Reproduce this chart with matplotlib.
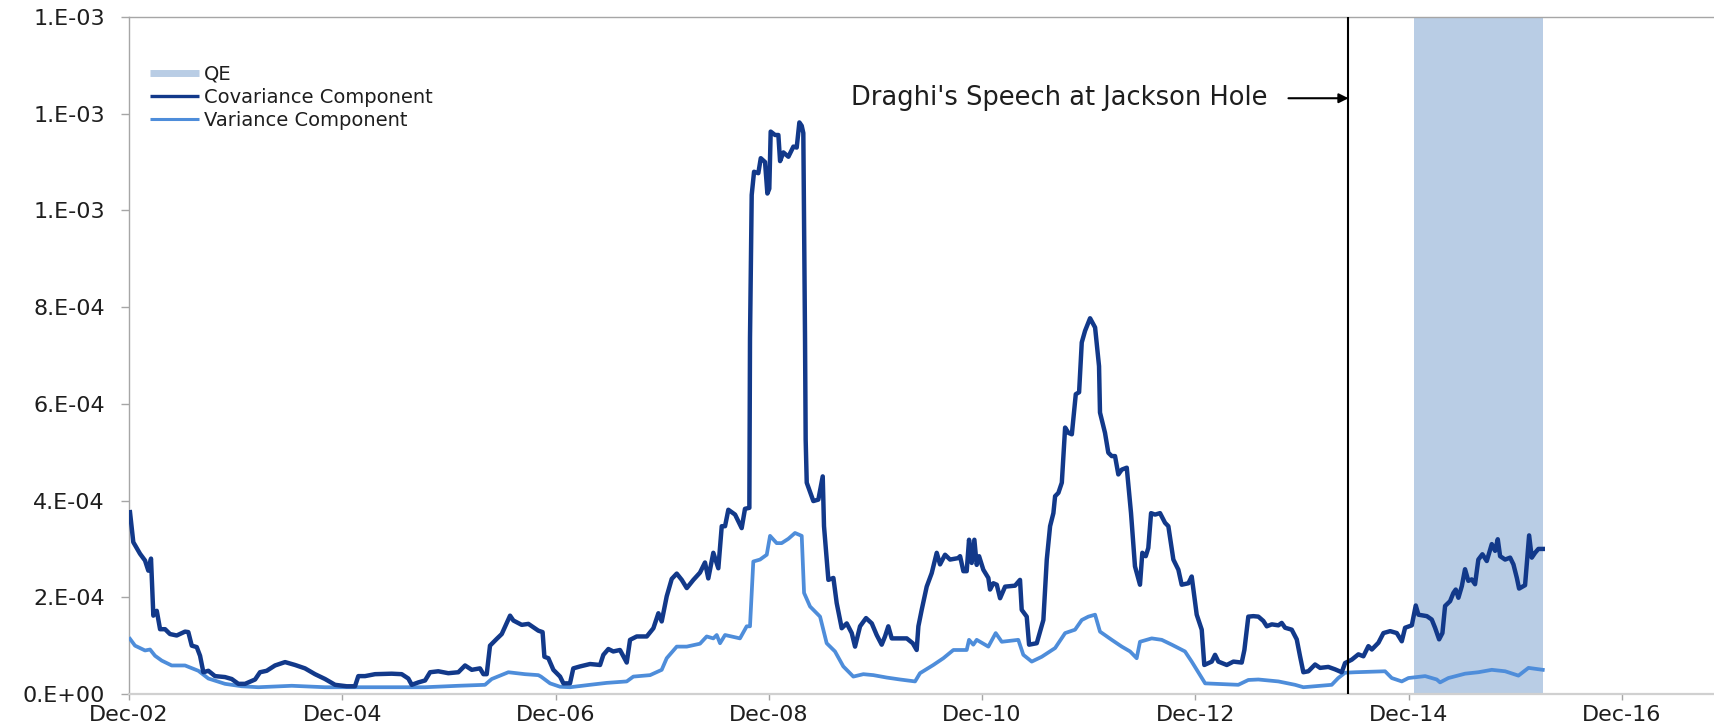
import matplotlib
matplotlib.use("Agg")
import numpy as np
import matplotlib.pyplot as plt
from matplotlib.lines import Line2D
from matplotlib.ticker import FuncFormatter, MultipleLocator

# ---------------- data (decimal years, values in units of 1e-4) ----------------
cov_years = [
    2002.926, 2002.957, 2003.020, 2003.067, 2003.098, 2003.123, 2003.145, 2003.177, 2003.208, 2003.255,
    2003.301, 2003.364, 2003.442, 2003.473, 2003.505, 2003.552, 2003.583, 2003.614, 2003.661, 2003.723,
    2003.817, 2003.880, 2003.942, 2004.005, 2004.099, 2004.145, 2004.208, 2004.286, 2004.380, 2004.474,
    2004.567, 2004.661, 2004.755, 2004.849, 2004.958, 2005.036, 2005.067, 2005.130, 2005.224, 2005.380,
    2005.474, 2005.536, 2005.568, 2005.630, 2005.693, 2005.740, 2005.817, 2005.911, 2006.005, 2006.068,
    2006.131, 2006.208, 2006.240, 2006.271, 2006.302, 2006.365, 2006.412, 2006.490, 2006.521, 2006.599,
    2006.662, 2006.755, 2006.795, 2006.812, 2006.849, 2006.896, 2006.959, 2006.990, 2007.052, 2007.083,
    2007.146, 2007.240, 2007.334, 2007.365, 2007.412, 2007.458, 2007.521, 2007.584, 2007.615, 2007.678,
    2007.772, 2007.834, 2007.881, 2007.912, 2007.959, 2008.006, 2008.053, 2008.100, 2008.147, 2008.209,
    2008.271, 2008.318, 2008.349, 2008.396, 2008.443, 2008.475, 2008.506, 2008.537, 2008.600, 2008.662,
    2008.693, 2008.734, 2008.740, 2008.756, 2008.778, 2008.818, 2008.841, 2008.881, 2008.903, 2008.921,
    2008.934, 2008.975, 2009.006, 2009.022, 2009.053, 2009.100, 2009.147, 2009.178, 2009.203, 2009.225,
    2009.240, 2009.256, 2009.262, 2009.272, 2009.334, 2009.381, 2009.422, 2009.434, 2009.475, 2009.522,
    2009.553, 2009.600, 2009.647, 2009.694, 2009.725, 2009.772, 2009.828, 2009.882, 2009.928, 2009.975,
    2010.006, 2010.037, 2010.069, 2010.147, 2010.210, 2010.266, 2010.303, 2010.319, 2010.350, 2010.397,
    2010.444, 2010.491, 2010.522, 2010.569, 2010.616, 2010.691, 2010.710, 2010.741, 2010.772, 2010.794,
    2010.819, 2010.844, 2010.866, 2010.888, 2010.928, 2010.975, 2010.991, 2011.022, 2011.054, 2011.085,
    2011.132, 2011.225, 2011.272, 2011.288, 2011.335, 2011.357, 2011.429, 2011.460, 2011.491, 2011.523,
    2011.554, 2011.585, 2011.601, 2011.632, 2011.664, 2011.695, 2011.726, 2011.758, 2011.795, 2011.826,
    2011.851, 2011.882, 2011.929, 2011.976, 2012.013, 2012.022, 2012.069, 2012.100, 2012.132, 2012.163,
    2012.194, 2012.226, 2012.273, 2012.313, 2012.350, 2012.397, 2012.419, 2012.451, 2012.475, 2012.501,
    2012.538, 2012.585, 2012.632, 2012.663, 2012.710, 2012.757, 2012.788, 2012.851, 2012.882, 2012.929,
    2012.976, 2013.000, 2013.070, 2013.101, 2013.132, 2013.211, 2013.273, 2013.351, 2013.376, 2013.413,
    2013.460, 2013.507, 2013.554, 2013.586, 2013.633, 2013.695, 2013.726, 2013.758, 2013.820, 2013.867,
    2013.898, 2013.929, 2013.976, 2014.039, 2014.086, 2014.163, 2014.226, 2014.289, 2014.320, 2014.383,
    2014.445, 2014.492, 2014.539, 2014.571, 2014.633, 2014.680, 2014.743, 2014.805, 2014.852, 2014.883,
    2014.946, 2014.983, 2015.008, 2015.087, 2015.133, 2015.164, 2015.202, 2015.233, 2015.258, 2015.305,
    2015.336, 2015.358, 2015.383, 2015.415, 2015.445, 2015.476, 2015.508, 2015.539, 2015.570, 2015.608,
    2015.649, 2015.696, 2015.727, 2015.752, 2015.774, 2015.821, 2015.868, 2015.899, 2015.931, 2015.952,
    2016.008, 2016.046, 2016.071, 2016.102, 2016.133, 2016.174,
]
cov_values_e4 = [
    3.76, 3.14, 2.90, 2.76, 2.55, 2.80, 1.62, 1.72, 1.34, 1.34,
    1.24, 1.21, 1.29, 1.28, 1.00, 0.97, 0.79, 0.45, 0.48, 0.37,
    0.35, 0.31, 0.21, 0.21, 0.30, 0.45, 0.48, 0.59, 0.66, 0.60,
    0.53, 0.41, 0.31, 0.19, 0.16, 0.16, 0.37, 0.37, 0.41, 0.42,
    0.41, 0.32, 0.19, 0.24, 0.28, 0.45, 0.47, 0.43, 0.45, 0.59,
    0.50, 0.53, 0.41, 0.41, 1.00, 1.14, 1.24, 1.62, 1.52, 1.43,
    1.45, 1.31, 1.28, 0.77, 0.74, 0.50, 0.36, 0.22, 0.22, 0.53,
    0.57, 0.62, 0.60, 0.81, 0.93, 0.88, 0.91, 0.65, 1.12, 1.19,
    1.19, 1.36, 1.67, 1.50, 2.02, 2.38, 2.49, 2.36, 2.19, 2.36,
    2.51, 2.72, 2.39, 2.92, 2.60, 3.47, 3.47, 3.81, 3.71, 3.43,
    3.83, 3.85, 7.35, 10.32, 10.80, 10.77, 11.08, 11.00, 10.35, 10.45,
    11.63, 11.56, 11.56, 11.02, 11.20, 11.11, 11.32, 11.30, 11.82, 11.75,
    11.60, 7.35, 5.26, 4.37, 3.99, 4.02, 4.50, 3.47, 2.36, 2.40,
    1.88, 1.36, 1.46, 1.26, 0.98, 1.40, 1.57, 1.46, 1.22, 1.02,
    1.19, 1.40, 1.15, 1.15, 1.15, 1.05, 0.91, 1.40, 1.74, 2.22,
    2.50, 2.92, 2.68, 2.88, 2.78, 2.81, 2.85, 2.54, 2.54, 3.19,
    2.71, 3.19, 2.67, 2.85, 2.57, 2.40, 2.16, 2.29, 2.26, 1.98,
    2.22, 2.24, 2.36, 1.74, 1.60, 1.02, 1.05, 1.29, 1.53, 2.78,
    3.47, 3.74, 4.09, 4.16, 4.37, 5.51, 5.40, 5.37, 6.20, 6.24,
    7.27, 7.51, 7.77, 7.58, 6.78, 5.82, 5.40, 4.99, 4.92, 4.92,
    4.54, 4.64, 4.68, 3.74, 2.64, 2.26, 2.92, 2.85, 3.02, 3.74,
    3.71, 3.74, 3.54, 3.47, 2.78, 2.57, 2.26, 2.29, 2.43, 1.64,
    1.33, 0.60, 0.67, 0.81, 0.67, 0.60, 0.67, 0.65, 0.91, 1.60,
    1.61, 1.60, 1.51, 1.40, 1.44, 1.42, 1.47, 1.37, 1.33, 1.13,
    0.78, 0.45, 0.47, 0.61, 0.54, 0.56, 0.51, 0.45, 0.64, 0.71,
    0.82, 0.78, 0.99, 0.92, 1.06, 1.26, 1.30, 1.26, 1.09, 1.37,
    1.42, 1.83, 1.64, 1.61, 1.54, 1.37, 1.13, 1.26, 1.82, 1.92,
    2.09, 2.16, 1.99, 2.23, 2.58, 2.34, 2.37, 2.27, 2.78, 2.89,
    2.75, 3.10, 2.96, 3.20, 2.85, 2.78, 2.82, 2.68, 2.40, 2.18,
    2.25, 3.28, 2.82, 2.92, 3.00, 3.00,
]

var_years = [
    2002.926, 2002.973, 2003.067, 2003.114, 2003.161, 2003.224, 2003.317, 2003.442, 2003.567, 2003.661,
    2003.817, 2003.974, 2004.130, 2004.443, 2004.755, 2005.067, 2005.380, 2005.693, 2006.005, 2006.255,
    2006.318, 2006.474, 2006.630, 2006.755, 2006.780, 2006.865, 2006.959, 2007.052, 2007.240, 2007.396,
    2007.584, 2007.646, 2007.803, 2007.912, 2007.959, 2008.053, 2008.147, 2008.271, 2008.334, 2008.396,
    2008.428, 2008.459, 2008.506, 2008.646, 2008.709, 2008.740, 2008.771, 2008.834, 2008.897, 2008.928,
    2008.990, 2009.037, 2009.100, 2009.162, 2009.225, 2009.247, 2009.303, 2009.397, 2009.459, 2009.537,
    2009.615, 2009.709, 2009.803, 2009.897, 2010.022, 2010.147, 2010.288, 2010.334, 2010.459, 2010.553,
    2010.647, 2010.772, 2010.794, 2010.834, 2010.866, 2010.975, 2011.044, 2011.101, 2011.256, 2011.303,
    2011.382, 2011.476, 2011.601, 2011.695, 2011.788, 2011.851, 2011.913, 2011.976, 2012.022, 2012.132,
    2012.226, 2012.304, 2012.366, 2012.397, 2012.507, 2012.601, 2012.695, 2012.819, 2012.882, 2013.008,
    2013.319, 2013.413, 2013.507, 2013.695, 2013.851, 2013.929, 2014.195, 2014.256, 2014.320, 2014.414,
    2014.695, 2014.758, 2014.852, 2014.914, 2015.071, 2015.180, 2015.211, 2015.289, 2015.445, 2015.570,
    2015.696, 2015.821, 2015.946, 2016.040, 2016.174,
]
var_values_e4 = [
    1.14, 1.00, 0.90, 0.92, 0.79, 0.69, 0.59, 0.59, 0.48, 0.32,
    0.21, 0.16, 0.14, 0.17, 0.14, 0.14, 0.14, 0.14, 0.17, 0.19,
    0.31, 0.45, 0.41, 0.39, 0.36, 0.22, 0.15, 0.14, 0.19, 0.23,
    0.26, 0.36, 0.39, 0.50, 0.74, 0.98, 0.98, 1.04, 1.19, 1.15,
    1.22, 1.05, 1.22, 1.15, 1.40, 1.40, 2.74, 2.78, 2.88, 3.27,
    3.12, 3.12, 3.21, 3.33, 3.27, 2.09, 1.81, 1.60, 1.05, 0.88,
    0.57, 0.36, 0.41, 0.39, 0.34, 0.30, 0.26, 0.43, 0.60, 0.74,
    0.91, 0.91, 1.12, 1.02, 1.12, 0.98, 1.26, 1.08, 1.12, 0.81,
    0.67, 0.77, 0.95, 1.26, 1.33, 1.53, 1.60, 1.64, 1.29, 1.12,
    0.98, 0.88, 0.74, 1.08, 1.15, 1.12, 1.02, 0.88, 0.67, 0.22,
    0.19, 0.29, 0.30, 0.26, 0.19, 0.14, 0.19, 0.33, 0.44, 0.45,
    0.47, 0.33, 0.26, 0.33, 0.37, 0.30, 0.24, 0.33, 0.42, 0.45,
    0.50, 0.47, 0.38, 0.54, 0.50,
]

qe_start, qe_end = 2014.963, 2016.174
speech_date = 2014.352
tick_years = [2002, 2004, 2006, 2008, 2010, 2012, 2014, 2016]
series_labels = ["QE", "Covariance Component", "Variance Component"]
annotation_text = "Draghi's Speech at Jackson Hole"

# ---------------- styling ----------------
COV_COLOR = "#12398A"
VAR_COLOR = "#4E8DDA"
QE_COLOR = "#B9CDE5"
TEXT_COLOR = "#1E1E1E"
AXIS_GRAY = "#A6A6A6"

W, H = 1714, 727
fig = plt.figure(figsize=(W / 100, H / 100), dpi=100)
left_px, bottom_px, top_px = 129, 694, 17
ax = fig.add_axes([left_px / W, 1 - bottom_px / H, 1 - left_px / W, (bottom_px - top_px) / H])

dec_offset = 11 / 12.0  # ticks sit at the start of December
px_per_year = 106.64
x0 = tick_years[0] + dec_offset
ax.set_xlim(x0, x0 + (W - left_px) / px_per_year)
ax.set_ylim(0, 1.4e-3)

scale = 1e-4
ax.axvspan(qe_start, qe_end, color=QE_COLOR, lw=0, zorder=1)
ax.plot(var_years, np.array(var_values_e4) * scale, color=VAR_COLOR, lw=2.7,
        solid_joinstyle="round", zorder=3)
ax.plot(cov_years, np.array(cov_values_e4) * scale, color=COV_COLOR, lw=3.2,
        solid_joinstyle="round", zorder=4)
ax.axvline(speech_date, color="black", lw=1.5, zorder=5)

# annotation: arrow and text
ann_y = 0.880
ax.annotate("", xy=(speech_date, ann_y), xycoords=("data", "axes fraction"),
            xytext=(-60, 0), textcoords="offset pixels",
            arrowprops=dict(arrowstyle="-|>", color="black", lw=1.5,
                            mutation_scale=14, shrinkA=0, shrinkB=0), zorder=6)
ax.annotate(annotation_text, xy=(speech_date, ann_y), xycoords=("data", "axes fraction"),
            xytext=(-81, 0), textcoords="offset pixels", ha="right", va="center",
            fontsize=18.5, color=TEXT_COLOR)

# axes styling
ax.xaxis.set_major_locator(plt.FixedLocator([y + dec_offset for y in tick_years]))
ax.set_xticklabels([f"Dec-{y % 100:02d}" for y in tick_years])
ax.yaxis.set_major_locator(MultipleLocator(2e-4))
ax.yaxis.set_major_formatter(FuncFormatter(lambda v, p: f"{v:#.0E}"))

ax.tick_params(axis="y", direction="out", length=5.5, width=1, color=AXIS_GRAY,
               pad=12, labelsize=16, labelcolor=TEXT_COLOR)
ax.tick_params(axis="x", direction="out", length=4, width=1, color=AXIS_GRAY,
               pad=4, labelsize=16, labelcolor=TEXT_COLOR)
ax.spines["right"].set_visible(False)
ax.spines["left"].set_color(AXIS_GRAY)
ax.spines["left"].set_linewidth(1)
ax.spines["top"].set_color(AXIS_GRAY)
ax.spines["top"].set_linewidth(1)
ax.spines["bottom"].set_color("#D0D0D0")
ax.spines["bottom"].set_linewidth(1.6)

# legend
handles = [
    Line2D([], [], color=QE_COLOR, lw=5, solid_capstyle="butt"),
    Line2D([], [], color=COV_COLOR, lw=2.4, solid_capstyle="butt"),
    Line2D([], [], color=VAR_COLOR, lw=2.2, solid_capstyle="butt"),
]
leg = ax.legend(handles, series_labels, loc="upper left",
                bbox_to_anchor=(150 / W, 1 - 65 / H), bbox_transform=fig.transFigure,
                frameon=False, borderpad=0, borderaxespad=0, handlelength=2.5,
                handletextpad=0.27, labelspacing=0.2, fontsize=14)
for t in leg.get_texts():
    t.set_color(TEXT_COLOR)

fig.savefig("out.png", dpi=100)
